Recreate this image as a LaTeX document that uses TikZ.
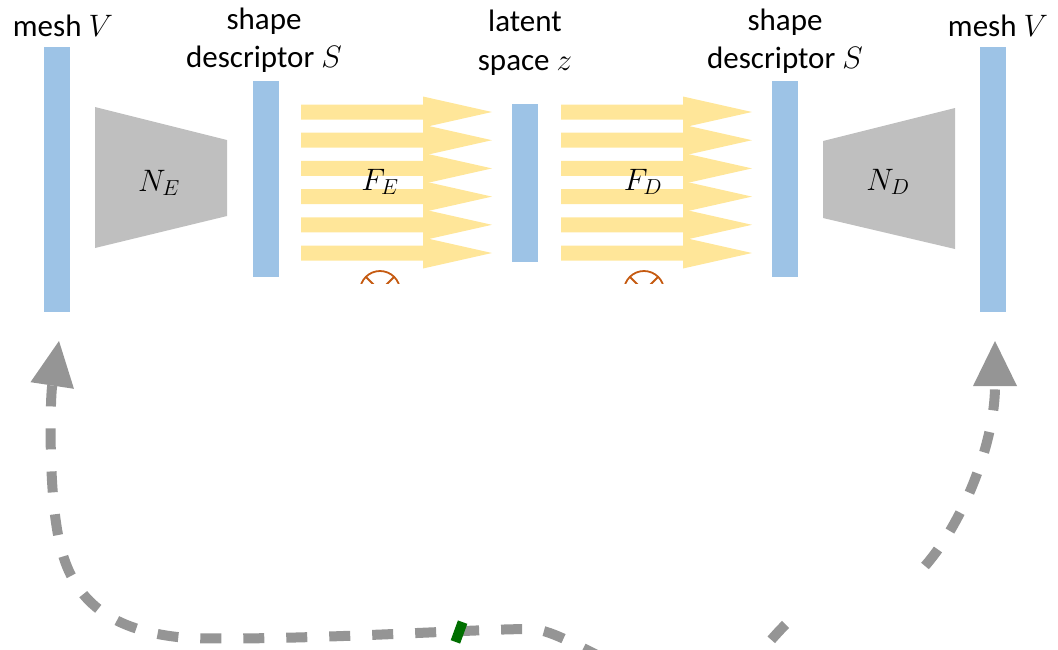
\RequirePackage{fix-cm}
\documentclass[tikz,border=0pt]{standalone}
\usepackage{fontspec}
\setmainfont{Carlito}
\usetikzlibrary{arrows.meta}
\definecolor{barblue}{HTML}{9DC3E6}
\definecolor{netgray}{HTML}{BFBFBF}
\definecolor{flowyellow}{HTML}{FFE699}
\definecolor{loopgray}{HTML}{959595}
\definecolor{markgreen}{HTML}{006F00}
\definecolor{opred}{HTML}{C55A11}
\tikzset{
  vecbar/.style={fill=barblue,minimum width=26pt,inner sep=0pt},
  lbl/.style={anchor=base,inner sep=0pt,font=\fontsize{31}{37}\selectfont},
  sym/.style={inner sep=0pt,font=\fontsize{31}{37}\selectfont},
  cyclepath/.style={draw=loopgray,line width=10pt,dash pattern=on 21pt off 22pt}
}
\begin{document}
\begin{tikzpicture}[x=1pt,y=-1pt]
\useasboundingbox (0,0) rectangle (1058,649);
\node[vecbar,minimum height=265pt] (meshL) at (56.5,179.5) {};
\node[vecbar,minimum height=196pt] (sdL) at (265.5,179) {};
\node[vecbar,minimum height=158pt] (lat) at (525,183) {};
\node[vecbar,minimum height=196pt] (sdR) at (785,179) {};
\node[vecbar,minimum height=265pt] (meshR) at (992.5,179.5) {};
\node[lbl] (tMeshL) at (63,36) {mesh $V$};
\node[lbl] (tSdL1) at (264,29) {shape};
\node[lbl] (tSdL2) at (264,67) {descriptor $S$};
\node[lbl] (tLat1) at (525,31) {latent};
\node[lbl] (tLat2) at (525,70) {space $z$};
\node[lbl] (tSdR1) at (785,30) {shape};
\node[lbl] (tSdR2) at (785,68) {descriptor $S$};
\node[lbl] (tMeshR) at (998,36) {mesh $V$};
\fill[netgray] (95,107)--(227,140)--(227,216)--(95,248)--cycle;
\fill[netgray] (823,141)--(955,108)--(955,249)--(823,218)--cycle;
\foreach \xa/\xb/\xc in {301/423/492,561/683/752}{
  \foreach \k in {0,...,5}{
    \pgfmathsetmacro{\yc}{112+28.2*\k}
    \fill[flowyellow] (\xa,\yc-7.5)--(\xb,\yc-7.5)--(\xb,\yc-15.5)--(\xc,\yc)--(\xb,\yc+15.5)--(\xb,\yc+7.5)--(\xa,\yc+7.5)--cycle;}}
\node[sym] (NE) at (159,183) {$N_E$};
\node[sym] (FE) at (380,182) {$F_E$};
\node[sym] (FD) at (643,182) {$F_D$};
\node[sym] (ND) at (888,182) {$N_D$};
\begin{scope}
\clip (300,250) rectangle (700,283);
\foreach \xo in {380,644}{\draw[opred,line width=1.8pt] (\xo,291) circle[radius=20] (\xo,291) +(-14.1,-14.1)--+(14.1,14.1) (\xo,291) +(14.1,-14.1)--+(-14.1,14.1);}
\end{scope}
\coordinate (tipL) at (59,341);
\coordinate (tipR) at (995,341);
\begin{scope}
\clip (0,0) rectangle (1058,649);
\draw[cyclepath,{Triangle[length=45pt 0 0,width=44pt 0 0,line width=0pt 0 0]}-] (tipL) .. controls (50,400) and (48,500) .. (61,548) .. controls (74,600) and (110,632) .. (188,638) .. controls (300,641) and (470,629) .. (531,629) .. controls (565,629) and (640,690) .. (700,690) .. controls (740,690) and (765,640) .. (795,616);
\draw[cyclepath,-{Triangle[length=45pt 0 0,width=44pt 0 0,line width=0pt 0 0]}] (925,566) .. controls (965,520) and (995,440) .. (tipR);
\end{scope}
\node[fill=markgreen,minimum width=10pt,minimum height=21pt,inner sep=0pt,rotate=-20] (gmark) at (459,632) {};
\end{tikzpicture}
\end{document}
